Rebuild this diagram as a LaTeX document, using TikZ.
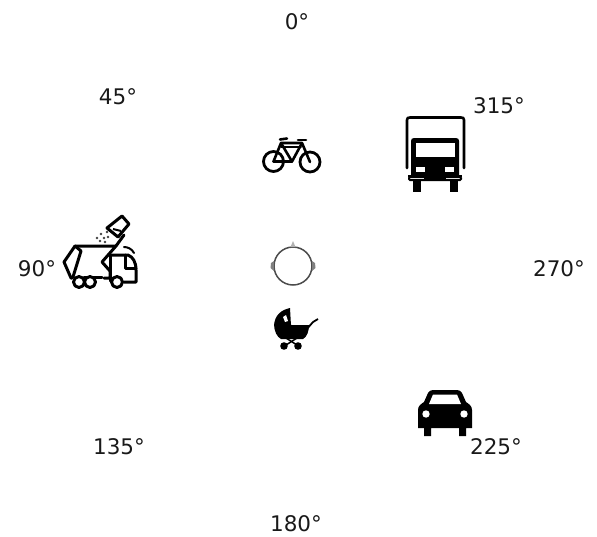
\documentclass[tikz,border=0pt]{standalone}
\usepackage{fontspec}
\setmainfont{DejaVu Sans}
\tikzset{
 anglabel/.style={font=\fontsize{21.5}{23}\selectfont,text=black!90,inner sep=0pt,anchor=center},
 ico/.style={draw=black,line width=3pt,line join=round,line cap=round},
 thinico/.style={draw=black,line width=2.6pt,line join=round,line cap=round}
}
\begin{document}
\begin{tikzpicture}[x=1pt,y=-1pt]
\useasboundingbox (0,0) rectangle (597,536);
\node[anglabel] (a0) at (297,22) {0°};
\node[anglabel] (a45) at (118,97) {45°};
\node[anglabel] (a90) at (37,269) {90°};
\node[anglabel] (a135) at (119,447) {135°};
\node[anglabel] (a180) at (296,524) {180°};
\node[anglabel] (a225) at (496,447) {225°};
\node[anglabel] (a270) at (559,269) {270°};
\node[anglabel] (a315) at (499,106) {315°};
% truck
\draw[thinico] (407,168) -- (407,120) .. controls (407,118) and (408,117.5) .. (410,117.5) -- (461,117.5) .. controls (463,117.5) and (464,118) .. (464,120) -- (464,168);
\fill[black] (411,141) .. controls (411,139) and (412,138) .. (414,138) -- (456,138) .. controls (458,138) and (459,139) .. (459,141) -- (459,176) -- (411,176) -- cycle;
\fill[white] (416,143) rectangle (455,157);
\fill[white] (416,167) rectangle (425,172);
\fill[white] (445,167) rectangle (454,172);
\fill[black] (408,175) rectangle (462,177);
\draw[black,line width=2pt,fill=white,rounded corners=1pt] (409,177) rectangle (461,180);
\fill[black] (413,180) rectangle (421,192);
\fill[black] (450,180) rectangle (458,192);
\fill[black] (424,176) rectangle (446,180);
% bicycle
\draw[thinico,line width=2.8pt] (273.5,161.5) circle (10);
\draw[thinico,line width=2.8pt] (310,162) circle (10);
\draw[thinico] (273.5,161.5) -- (281,143) -- (302,143) -- (310,162);
\draw[thinico] (273.5,161.5) -- (292,161.5) -- (302,143);
\draw[thinico] (281,143) -- (292,161.5);
\draw[thinico] (280,139.5) -- (287,138.5);
\draw[thinico] (298,140) -- (306,140);
\draw[thinico,line width=1.6pt] (281,147) -- (301,147);
% circle
\draw[black!70,line width=1.5pt] (293,266) circle (19);
\fill[black!30] (290.5,247) -- (293,241) -- (295.5,247) -- cycle;
\fill[black!50] (274,261) -- (271,263) -- (270.5,268) -- (274,271) -- cycle;
\fill[black!50] (312,261) -- (315,263) -- (315.5,268) -- (312,271) -- cycle;
% pram
\fill[black] (274,325) .. controls (275,315) and (281,310) .. (290,308) -- (291,326) -- cycle;
\fill[white] (283,317) -- (286,315) -- (288,321) -- (285,322) -- cycle;
\fill[black] (274,324) -- (292,325) -- (309,325) .. controls (309,331) and (307,337) .. (303,339) -- (281,339) .. controls (277,337) and (274,331) .. (274,324) -- cycle;
\draw[black,line width=1.8pt] (306,330) -- (313,322) -- (318,319);
\draw[black,line width=1.5pt] (286,338) -- (297,345);
\draw[black,line width=1.5pt] (297,338) -- (286,345);
\fill[black] (284,346) circle (3.8);
\fill[black] (298,346) circle (3.8);
% car
\fill[black] (418,418) -- (418,410) .. controls (418,406) and (421,404) .. (424,402) -- (428,393) .. controls (429,391) and (431,390) .. (433,390) -- (457,390) .. controls (459,390) and (461,391) .. (462,393) -- (466,402) .. controls (469,404) and (472,406) .. (472,410) -- (472,428) -- (466,428) -- (466,436) -- (459,436) -- (459,428) -- (431,428) -- (431,436) -- (424,436) -- (424,428) -- (418,428) -- cycle;
\fill[white] (429,404) -- (433,394.5) -- (457,394.5) -- (461,404) -- cycle;
\fill[white] (426,414) circle (3.7);
\fill[white] (464,414) circle (3.7);
% refuse truck
\draw[ico] (75,246) -- (116,246) -- (102,262) -- (110,271) -- (110,278) -- (104,278);
\draw[ico] (75,246) -- (64,262) -- (71,278) -- (72,278);
\draw[ico] (75,246) -- (81,251) -- (73,277);
\draw[ico] (110,255) -- (128,255) .. controls (133,257) and (136,262) .. (136,270) -- (136,282) -- (124,282);
\draw[ico] (110,255) -- (110,281);
\draw[ico] (125,255) -- (125,268) -- (136,268);
\draw[ico] (84,277) -- (102,277);
\draw[ico,fill=white] (79,282) circle (5.5);
\draw[ico,fill=white] (90,282) circle (5.5);
\draw[ico,fill=white] (117,282) circle (5.5);
\draw[ico] (116,246) -- (124,235);
\draw[ico,fill=white] (107,228) -- (122,216) -- (129,224) -- (118,237) -- cycle;
\draw[black,line width=2pt] (113,229) -- (121,231);
\draw[ico,line width=2pt] (124,247) .. controls (128,247) and (132,249) .. (134,253);
\fill[black!75] (97,238) circle (1.4) (101,234) circle (1.4) (104,238) circle (1.4) (100,241) circle (1.4) (105,242) circle (1.4) (108,237) circle (1.4) (107,232) circle (1.4);
\end{tikzpicture}
\end{document}
